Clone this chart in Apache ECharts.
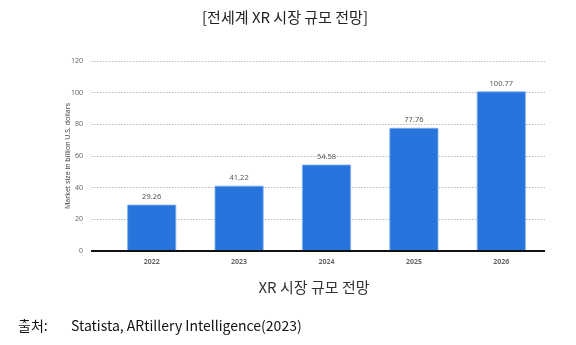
<!DOCTYPE html>
<html><head><meta charset="utf-8">
<script src="https://cdn.jsdelivr.net/npm/echarts@6/dist/echarts.min.js"></script>
<style>html,body{margin:0;padding:0;background:#fff}#c{width:576px;height:345px}</style>
</head><body><div id="c"></div>
<script>
const categories = ['2022', '2023', '2024', '2025', '2026'];
const marketSize = [29.26, 41.22, 54.58, 77.76, 100.77];
const yTicks = [0, 20, 40, 60, 80, 100, 120];

const chart = echarts.init(document.getElementById('c'), null, {renderer: 'canvas'});
const tickFont = {fontSize: 7, color: '#666', fontFamily: 'Noto Sans'};
chart.setOption({
  animation: false,
  title: [
    {text: '[전세계 XR 시장 규모 전망]', left: 280, top: 5, textAlign: 'center',
     textStyle: {fontSize: 15, fontWeight: 'normal', color: '#222', fontFamily: 'Noto Sans CJK KR'}},
    {text: 'XR 시장 규모 전망', left: 309, top: 275, textAlign: 'center',
     textStyle: {fontSize: 15, fontWeight: 'normal', color: '#333', fontFamily: 'Noto Sans CJK KR'}},
    {text: '출처:', left: 13, top: 314,
     textStyle: {fontSize: 14, fontWeight: 'normal', color: '#111', fontFamily: 'Noto Sans CJK KR'}},
    {text: 'Statista, ARtillery Intelligence(2023)', left: 66, top: 314,
     textStyle: {fontSize: 14, fontWeight: 'normal', color: '#111', fontFamily: 'Noto Sans CJK KR'}}
  ],
  grid: [
    {left: 91, right: 31, top: 61, bottom: 94},
    {left: 108, right: 31, top: 61, bottom: 94}
  ],
  xAxis: [
    {gridIndex: 0, type: 'value', min: 0, max: 1, show: true,
     axisLine: {show: false}, axisTick: {show: false}, axisLabel: {show: false}, splitLine: {show: false}},
    {gridIndex: 1, type: 'category', data: categories,
     axisLine: {show: false}, axisTick: {show: false},
     axisLabel: Object.assign({margin: 7, fontWeight: 'bold'}, tickFont)}
  ],
  yAxis: [
    {gridIndex: 0, type: 'value', min: 0, max: 120, interval: 20,
     name: 'Market size in billion U.S. dollars', nameLocation: 'middle', nameGap: 20,
     nameMoveOverlap: false,
     nameTextStyle: {fontSize: 7, color: '#444', fontFamily: 'Noto Sans'},
     axisLine: {show: false}, axisTick: {show: false},
     axisLabel: Object.assign({margin: 8}, tickFont),
     splitLine: {lineStyle: {type: [1.5, 1.5], color: '#bbb', width: 1}}},
    {gridIndex: 1, type: 'value', min: 0, max: 120, interval: 20, show: false, splitLine: {show: false}}
  ],
  series: [
    {type: 'line', xAxisIndex: 0, yAxisIndex: 0, data: [[0, 0], [1, 0]], symbol: 'none',
     lineStyle: {color: '#111', width: 2}, z: 5, silent: true},
    {type: 'bar', xAxisIndex: 1, yAxisIndex: 1, data: marketSize, barWidth: 49,
     itemStyle: {color: '#2775dc', borderColor: '#7fb0f0', borderWidth: 0.8},
     label: {show: true, position: 'top', distance: 4, fontSize: 7.5, color: '#555', fontFamily: 'Noto Sans',
             formatter: p => p.value.toFixed(2)}, z: 3}
  ]
});
</script></body></html>
